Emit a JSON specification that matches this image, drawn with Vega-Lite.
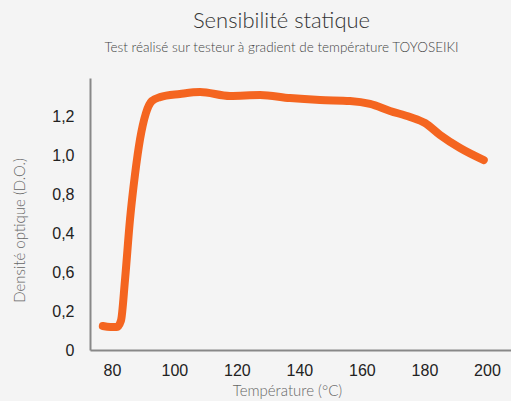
{
  "$schema": "https://vega.github.io/schema/vega-lite/v6.json",
  "width": 421,
  "height": 272,
  "autosize": "none",
  "padding": {"left": 90, "top": 78, "right": 0, "bottom": 51},
  "background": "#f4f4f4",
  "title": {
    "text": "Sensibilité statique",
    "subtitle": "Test réalisé sur testeur à gradient de température TOYOSEIKI",
    "anchor": "middle",
    "dx": -19,
    "offset": 23,
    "font": "Lato",
    "fontWeight": 300,
    "fontSize": 22,
    "color": "#333333",
    "subtitleFont": "Lato",
    "subtitleFontWeight": 300,
    "subtitleFontSize": 13.5,
    "subtitleColor": "#444444",
    "subtitlePadding": 8
  },
  "data": {
    "values": [
      {"t": 77.1, "d": 0.123},
      {"t": 79.5, "d": 0.118},
      {"t": 81.6, "d": 0.118},
      {"t": 82.9, "d": 0.15},
      {"t": 84.2, "d": 0.36},
      {"t": 85.8, "d": 0.67},
      {"t": 87.4, "d": 0.9},
      {"t": 89.0, "d": 1.08},
      {"t": 90.9, "d": 1.215},
      {"t": 92.8, "d": 1.277},
      {"t": 95.4, "d": 1.297},
      {"t": 101.8, "d": 1.313},
      {"t": 108.2, "d": 1.323},
      {"t": 117.8, "d": 1.303},
      {"t": 127.4, "d": 1.308},
      {"t": 137.0, "d": 1.292},
      {"t": 146.6, "d": 1.282},
      {"t": 156.2, "d": 1.277},
      {"t": 162.6, "d": 1.262},
      {"t": 169.0, "d": 1.226},
      {"t": 175.4, "d": 1.195},
      {"t": 180.2, "d": 1.164},
      {"t": 185.0, "d": 1.103},
      {"t": 191.4, "d": 1.036},
      {"t": 199.0, "d": 0.974}
    ]
  },
  "mark": {"type": "line", "interpolate": "monotone", "color": "#f46520", "strokeWidth": 8, "strokeCap": "round", "strokeJoin": "round", "clip": false},
  "encoding": {
    "x": {
      "field": "t",
      "type": "quantitative",
      "scale": {"domain": [73, 207.7], "nice": false, "zero": false},
      "axis": {
        "title": "Température (°C)",
        "values": [80, 100, 120, 140, 160, 180, 200],
        "grid": false,
        "ticks": false,
        "domainColor": "#888888",
        "domainWidth": 2,
        "labelFont": "Liberation Sans",
        "labelFontSize": 16,
        "labelColor": "#222222",
        "labelPadding": 12,
        "titleFont": "Lato",
        "titleFontWeight": 300,
        "titleFontSize": 15,
        "titleColor": "#666666",
        "titlePadding": 5,
        "titleX": 197
      }
    },
    "y": {
      "field": "d",
      "type": "quantitative",
      "scale": {"domain": [0, 1.395], "nice": false},
      "axis": {
        "title": "Densité optique (D.O.)",
        "values": [0, 0.2, 0.4, 0.6, 0.8, 1.0, 1.2],
        "labelExpr": "datum.value == 0 ? '0' : datum.value == 0.4 ? '0,6' : datum.value == 0.6 ? '0,4' : replace(format(datum.value, '.1f'), '.', ',')",
        "grid": false,
        "ticks": false,
        "domainColor": "#888888",
        "domainWidth": 2,
        "labelFont": "Liberation Sans",
        "labelFontSize": 16,
        "labelColor": "#222222",
        "labelPadding": 16,
        "titleFont": "Lato",
        "titleFontWeight": 300,
        "titleFontSize": 15,
        "titleColor": "#666666",
        "titlePadding": 24,
        "titleY": 152
      }
    }
  },
  "config": {"view": {"stroke": null}}
}
